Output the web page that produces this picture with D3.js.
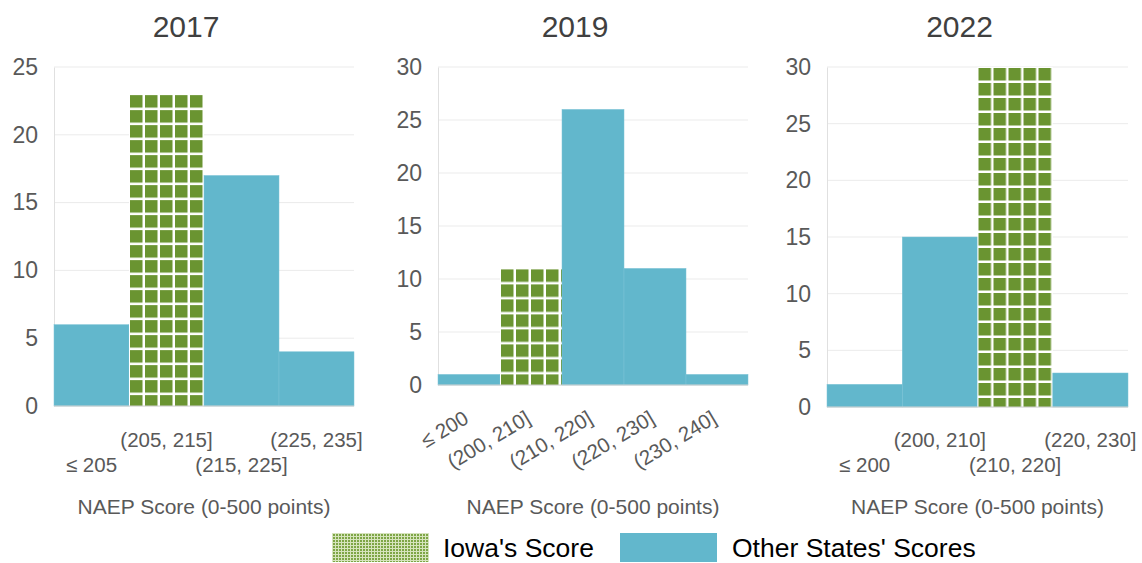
<!DOCTYPE html>
<html>
<head>
<meta charset="utf-8">
<script src="https://cdn.jsdelivr.net/npm/d3@7"></script>
<style>
  body { margin: 0; background: #fff; }
  svg { font-family: "Liberation Sans", Arial, sans-serif; }
</style>
</head>
<body>
<svg id="chart" width="1142" height="563"></svg>
<script>
// data
const years = ["2017", "2019", "2022"];
const bins2017 = ["≤ 205", "(205, 215]", "(215, 225]", "(225, 235]"];
const counts2017 = [6, 23, 17, 4];
const bins2019 = ["≤ 200", "(200, 210]", "(210, 220]", "(220, 230]", "(230, 240]"];
const counts2019 = [1, 11, 26, 11, 1];
const bins2022 = ["≤ 200", "(200, 210]", "(210, 220]", "(220, 230]"];
const counts2022 = [2, 15, 30, 3];
const iowaBin = [1, 1, 2];          // index of the bin holding Iowa's score
const yMax = [25, 30, 30];
const axisTitle = "NAEP Score (0-500 points)";
const legendLabels = ["Iowa's Score", "Other States' Scores"];

const GREEN = "#6a9431";
const BLUE = "#62b7cc";
const GREY_TEXT = "#595959";

const svg = d3.select("#chart");
const defs = svg.append("defs");

// layout for each panel
const panels = [
  { bins: bins2017, counts: counts2017, left: 54, right: 354, top: 67, bottom: 406, rotate: false },
  { bins: bins2019, counts: counts2019, left: 438, right: 748, top: 67, bottom: 385, rotate: true },
  { bins: bins2022, counts: counts2022, left: 827, right: 1128, top: 67, bottom: 407, rotate: false }
];

panels.forEach((p, i) => {
  const g = svg.append("g");
  const x = d3.scaleBand().domain(p.bins).range([p.left, p.right]);
  const y = d3.scaleLinear().domain([0, yMax[i]]).range([p.bottom, p.top]);

  // title
  g.append("text")
    .attr("x", (p.left + p.right) / 2 - 18)
    .attr("y", 37)
    .attr("text-anchor", "middle")
    .attr("font-size", 30)
    .attr("fill", "#404040")
    .text(years[i]);

  // gridlines
  g.append("g").selectAll("line")
    .data(y.ticks(6))
    .join("line")
    .attr("x1", p.left).attr("x2", p.right)
    .attr("y1", d => y(d)).attr("y2", d => y(d))
    .attr("stroke", "#ebebeb").attr("stroke-width", 1);

  // y axis
  const yAxis = g.append("g")
    .attr("transform", `translate(${p.left},0)`)
    .call(d3.axisLeft(y).ticks(6).tickSize(0).tickPadding(16));
  yAxis.select(".domain").attr("stroke", "#e0e0e0");
  yAxis.selectAll("text").attr("font-size", 23).attr("fill", GREY_TEXT)
    .attr("font-family", "Liberation Sans, Arial, sans-serif");

  // green grid pattern anchored to Iowa bar's top-left
  const ib = iowaBin[i];
  const bx = x(p.bins[ib]);
  const by = y(p.counts[ib]);
  const pat = defs.append("pattern")
    .attr("id", "grid" + i)
    .attr("patternUnits", "userSpaceOnUse")
    .attr("x", bx).attr("y", by)
    .attr("width", 15).attr("height", 15);
  pat.append("rect").attr("width", 15).attr("height", 15).attr("fill", "#fff");
  pat.append("rect").attr("x", 1).attr("y", 1).attr("width", 12.5).attr("height", 12.5).attr("fill", GREEN);

  // bars
  g.append("g").selectAll("rect")
    .data(p.counts)
    .join("rect")
    .attr("x", (d, j) => x(p.bins[j]))
    .attr("y", d => y(d))
    .attr("width", x.bandwidth())
    .attr("height", d => p.bottom - y(d))
    .attr("fill", (d, j) => j === ib ? `url(#grid${i})` : BLUE)
    .attr("stroke", (d, j) => j === ib ? "none" : "#7cc4d6")
    .attr("stroke-width", 0.5);

  // baseline
  g.append("line")
    .attr("x1", p.left).attr("x2", p.right)
    .attr("y1", p.bottom).attr("y2", p.bottom)
    .attr("stroke", "#d0d0d0");

  // x labels
  const xl = g.append("g").selectAll("text")
    .data(p.bins)
    .join("text")
    .attr("font-size", 20.5)
    .attr("fill", GREY_TEXT)
    .text(d => d);
  if (p.rotate) {
    xl.attr("text-anchor", "end")
      .attr("transform", d => `translate(${x(d) + x.bandwidth() / 2 + 1},${p.bottom + 37}) rotate(-31)`);
  } else {
    xl.attr("text-anchor", "middle")
      .attr("x", d => x(d) + x.bandwidth() / 2)
      .attr("y", (d, j) => j % 2 === 1 ? 447 : 472);
  }

  // axis title
  g.append("text")
    .attr("x", (p.left + p.right) / 2)
    .attr("y", 514)
    .attr("text-anchor", "middle")
    .attr("font-size", 21)
    .attr("fill", GREY_TEXT)
    .text(axisTitle);
});

// legend
const legPat = defs.append("pattern")
  .attr("id", "legGrid")
  .attr("patternUnits", "userSpaceOnUse")
  .attr("width", 3).attr("height", 3);
legPat.append("rect").attr("width", 3).attr("height", 3).attr("fill", "#d6e4bd");
legPat.append("rect").attr("width", 2).attr("height", 2).attr("fill", "#7ea646");

const legend = svg.append("g");
legend.append("rect").attr("x", 332).attr("y", 533).attr("width", 97).attr("height", 29)
  .attr("fill", "url(#legGrid)");
legend.append("text").attr("x", 443).attr("y", 557).attr("font-size", 26.5).attr("fill", "#000")
  .text(legendLabels[0]);
legend.append("rect").attr("x", 620).attr("y", 533).attr("width", 97).attr("height", 29)
  .attr("fill", BLUE);
legend.append("text").attr("x", 732).attr("y", 557).attr("font-size", 26.5).attr("fill", "#000")
  .text(legendLabels[1]);
</script>
</body>
</html>
